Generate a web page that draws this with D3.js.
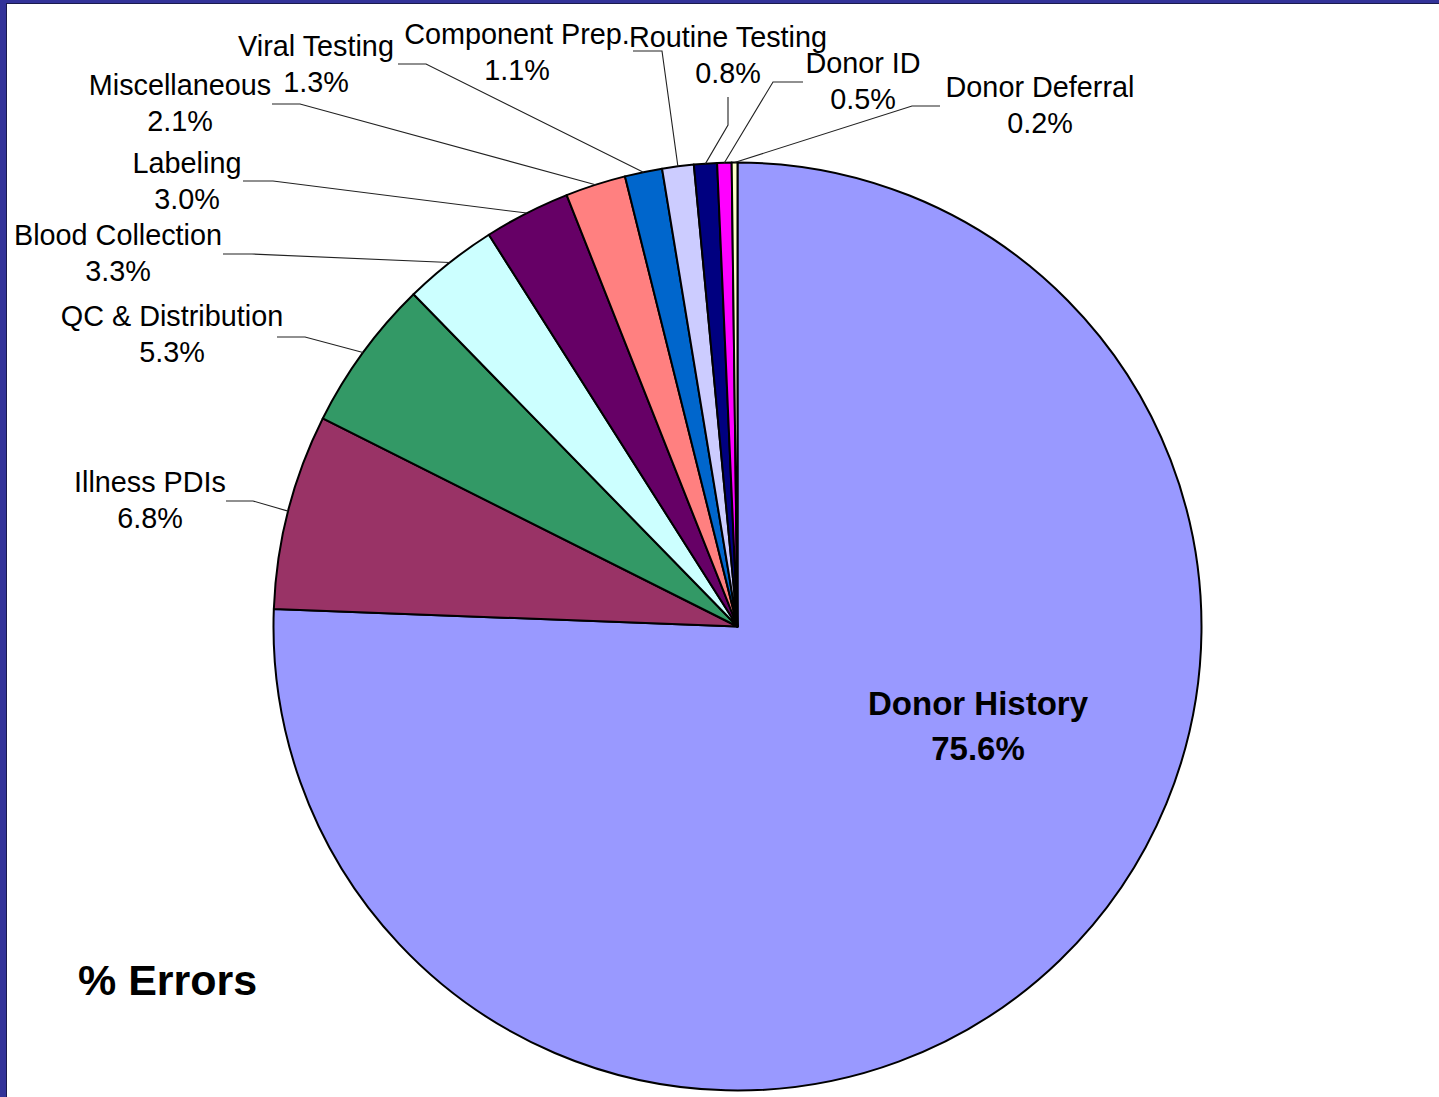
<!DOCTYPE html>
<html>
<head>
<meta charset="utf-8">
<script src="https://cdn.jsdelivr.net/npm/d3@7"></script>
<style>
  html, body { margin: 0; padding: 0; background: #ffffff; }
  svg { display: block; }
  text { font-family: "Liberation Sans", Arial, sans-serif; fill: #000; }
</style>
</head>
<body>
<svg id="chart" width="1439" height="1097"></svg>
<script>
// ---- data ----
const categories = ["Donor History", "Illness PDIs", "QC & Distribution", "Blood Collection",
  "Labeling", "Miscellaneous", "Viral Testing", "Component Prep.", "Routine Testing",
  "Donor ID", "Donor Deferral"];
const values = [75.6, 6.8, 5.3, 3.3, 3.0, 2.1, 1.3, 1.1, 0.8, 0.5, 0.2];
const colors = ["#9999FF", "#993366", "#339966", "#CCFFFF", "#660066", "#FF8080",
  "#0066CC", "#CCCCFF", "#000080", "#FF00FF", "#FFFFCC"];
const chartTitle = "% Errors";

// ---- layout (label anchor, baseline, leader line elbow & start) ----
const labelLayout = [
  { x: 978, y: 715, inside: true },
  { x: 150, y: 492, elbow: [253, 501], start: [226, 501] },
  { x: 172, y: 326, elbow: [305, 337], start: [277, 337] },
  { x: 118, y: 245, elbow: [252, 254], start: [223, 254] },
  { x: 187, y: 173, elbow: [273, 181], start: [243, 181] },
  { x: 180, y: 95,  elbow: [300, 104], start: [272, 104] },
  { x: 316, y: 56,  elbow: [426, 64],  start: [398, 64] },
  { x: 517, y: 44,  elbow: [662, 51],  start: [633, 51] },
  { x: 728, y: 47,  elbow: [728, 125], start: [728, 97] },
  { x: 863, y: 73,  elbow: [773, 82],  start: [803, 82] },
  { x: 1040, y: 97, elbow: [912, 106], start: [940, 106] }
];

const svg = d3.select("#chart");
const W = 1439, H = 1097;
const cx = 737.5, cy = 626.5, R = 464;

// frame
svg.append("rect").attr("x", 0).attr("y", 0).attr("width", W).attr("height", H).attr("fill", "#ffffff");
svg.append("rect").attr("x", 0).attr("y", 0).attr("width", W).attr("height", 3).attr("fill", "#333399");
svg.append("line").attr("x1", 0).attr("x2", W).attr("y1", 3.5).attr("y2", 3.5).attr("stroke", "#1a1a4d").attr("stroke-width", 1);
svg.append("rect").attr("x", 0).attr("y", 0).attr("width", 6).attr("height", H).attr("fill", "#333399");
svg.append("line").attr("x1", 6.5).attr("x2", 6.5).attr("y1", 3).attr("y2", H).attr("stroke", "#1a1a4d").attr("stroke-width", 1);

const data = categories.map((c, i) => ({ name: c, value: values[i], color: colors[i], layout: labelLayout[i] }));

const pie = d3.pie().value(d => d.value).sort(null).startAngle(0).endAngle(2 * Math.PI);
const arcs = pie(data);
const arc = d3.arc().innerRadius(0).outerRadius(R);

const g = svg.append("g").attr("transform", `translate(${cx},${cy})`);
g.selectAll("path.slice")
  .data(arcs)
  .join("path")
  .attr("class", "slice")
  .attr("d", arc)
  .attr("fill", d => d.data.color)
  .attr("stroke", "#000")
  .attr("stroke-width", 2)
  .attr("stroke-linejoin", "round");

// leader lines
const fmt = v => v.toFixed(1) + "%";
arcs.forEach(a => {
  const L = a.data.layout;
  if (L.inside) return;
  const mid = (a.startAngle + a.endAngle) / 2;
  const px = cx + R * Math.sin(mid);
  const py = cy - R * Math.cos(mid);
  svg.append("polyline")
    .attr("points", [[px, py], L.elbow, L.start].map(p => p.join(",")).join(" "))
    .attr("fill", "none")
    .attr("stroke", "#222")
    .attr("stroke-width", 1.1);
});

// labels
arcs.forEach(a => {
  const L = a.data.layout;
  const t = svg.append("text")
    .attr("text-anchor", "middle")
    .attr("font-size", L.inside ? 33 : 28.8)
    .attr("font-weight", L.inside ? "bold" : "normal");
  t.append("tspan").attr("x", L.x).attr("y", L.y).text(a.data.name);
  t.append("tspan").attr("x", L.x).attr("y", L.y + (L.inside ? 45 : 36)).text(fmt(a.data.value));
});

// title
svg.append("text")
  .attr("x", 78).attr("y", 995)
  .attr("font-size", 43).attr("font-weight", "bold")
  .text(chartTitle);
</script>
</body>
</html>
